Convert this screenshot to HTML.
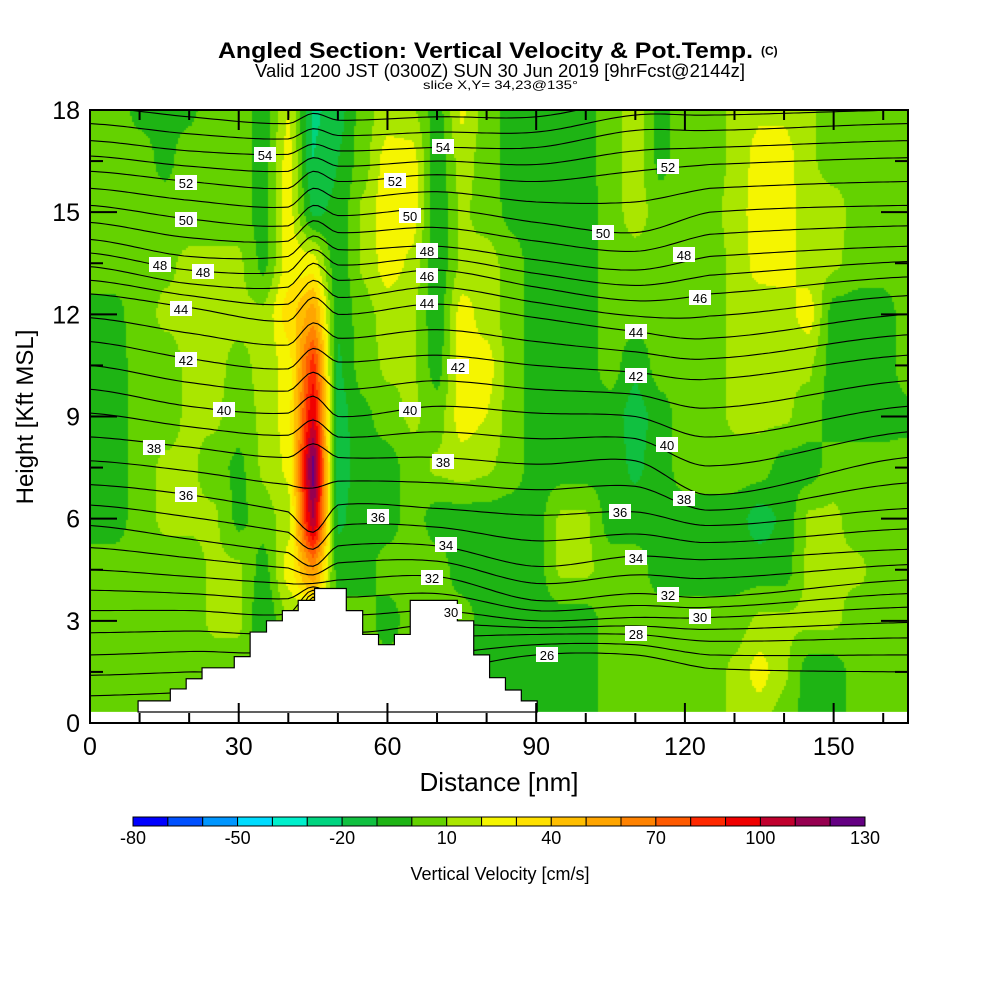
<!DOCTYPE html>
<html><head><meta charset="utf-8">
<style>
html,body{margin:0;padding:0;background:#fff;}
#wrap{position:relative;width:1000px;height:1000px;overflow:hidden;font-family:"Liberation Sans",sans-serif;}
canvas,svg{position:absolute;left:0;top:0;}
</style></head>
<body>
<div id="wrap">
<canvas id="field" width="1000" height="1000"></canvas>
<svg id="over" width="1000" height="1000"></svg>
</div>
<script>
// ---- data ----
const distCols = [0,5,10,15,20,25,30,35,40,45,50,55,60,65,70,75,80,85,90,95,100,105,110,115,120,125,130,135,140,145,150,155,160,165];
const heightRows = [18,16.5,15,13.5,12,10.5,9,7.5,6,4.5,3,1.5,0];
const w18  = [5,5,-3,-3,-2,5,5,-5,20,-22,-15,5,15,12,-5,22,5,-5,-5,-5,-3,5,15,-3,5,5,12,18,18,12,5,5,5,5];
const w165 = [5,5,5,-3,5,5,5,-5,25,-20,-10,5,25,25,-8,15,5,-5,-5,-5,-3,5,15,-3,5,5,12,25,25,12,5,5,5,5];
const w15  = [5,5,5,5,5,5,5,-5,25,-12,-8,12,28,25,-8,12,5,-3,-5,-5,-5,5,15,5,5,5,15,25,25,15,15,5,5,5];
const w135 = [5,5,5,8,12,12,12,-3,25,25,-8,12,25,18,-8,12,15,5,-5,-5,-5,5,5,5,5,5,12,25,25,15,12,5,5,5];
const w12  = [-3,-3,5,12,12,12,12,12,35,55,-8,5,15,12,-8,25,15,5,-5,-5,-5,5,5,5,5,5,12,12,15,25,-5,-5,-5,5];
const w105 = [-5,-5,5,5,12,12,8,12,25,85,-12,5,12,12,-5,25,25,5,-5,-5,-5,5,-8,5,5,5,12,12,12,12,-5,-5,-5,5];
const w9   = [-5,-5,5,5,12,12,5,12,25,100,-15,-3,5,12,5,25,20,5,-5,-5,-5,-5,-15,-5,5,5,12,12,12,5,-5,-5,-5,-3];
const w75  = [-5,-5,5,12,12,5,-3,12,22,125,-15,-5,-5,5,12,15,12,5,-5,-5,-5,-5,-12,-5,5,5,5,5,-5,-5,5,5,5,5];
const w6   = [-5,-5,5,12,12,12,-3,5,15,110,-12,-5,-5,5,-5,-5,-5,-5,-5,12,12,-5,-5,-5,-5,-5,-5,-15,-8,12,12,5,5,5];
const w45  = [5,5,5,5,5,12,12,-5,25,60,-5,-5,5,5,5,-5,-5,-5,-5,12,12,5,5,-5,-5,-5,-5,-5,-5,12,12,12,5,5];
const w3   = [5,5,5,5,5,12,12,-10,10,10,5,5,-5,5,5,5,-5,-5,-5,-5,-5,5,5,5,5,5,5,12,12,12,12,5,5,5];
const w15b = [5,5,5,5,5,5,5,5,5,5,5,5,5,5,5,5,-5,-5,-5,-5,-5,5,5,5,5,5,12,25,12,-5,-5,5,5,5];
const w0   = [5,5,5,5,5,5,5,5,5,5,5,5,5,5,5,5,-5,-5,-5,-5,-5,5,5,5,5,5,12,12,5,-5,-5,5,5,5];
const velRows = [w18,w165,w15,w135,w12,w105,w9,w75,w6,w45,w3,w15b,w0];

const colorLevels = [-80,-70,-60,-50,-40,-30,-20,-10,0,10,20,30,40,50,60,70,80,90,100,110,120,130];
const colorList = ["#0000ff","#0050ff","#0096ff","#00dcff","#00f0cc","#00d47f","#10c040","#1eb414","#64d200","#aae600","#f5f500","#ffe100","#ffbe00","#ffa500","#ff8200","#ff5a00","#ff2800","#f00000","#c0002d","#960050","#640082"];
const cbarTicks = [-80,-50,-20,10,40,70,100,130];

// terrain (nm, kft) staircase
const terrainNm  = [9.7,16.2,19.4,22.6,25.9,29.1,32.3,35.6,38.8,42.0,45.3,51.7,55.0,58.2,61.4,64.6,74.1,77.4,80.6,83.8,87.0];
const terrainKft = [0.65,1.0,1.3,1.62,1.62,1.95,2.67,3.0,3.3,3.6,3.95,3.3,2.6,2.3,2.6,3.6,3.0,2.0,1.33,0.97,0.65];

// isentropes: even levels, height (kft) per anchor column
const thetaLevels = [26,28,30,32,34,36,38,40,42,44,46,48,50,52,54,56];
const anchorNm = [0,20,40,45,50,70,90,110,125,165];
const th0   = [0.8,2.0,3.3,4.5,5.8,7.0,8.4,9.8,11.2,12.6,13.4,14.2,15.2,16.2,17.1,18.1];
const th20  = [0.9,2.1,3.3,4.3,5.4,6.7,8.1,9.3,10.7,12.2,12.9,13.7,14.8,15.9,16.8,17.8];
const th40  = [1.0,2.2,3.2,4.1,5.0,6.2,7.8,9.1,10.4,11.8,12.8,13.7,14.6,15.7,16.7,17.6];
const th45  = [3.5,3.7,3.9,4.1,4.6,5.6,8.2,9.6,11.0,12.5,13.5,14.3,15.2,16.2,17.0,17.9];
const th50  = [1.0,2.2,3.2,4.2,5.2,6.4,7.8,9.0,10.6,12.0,13.0,13.9,14.9,15.9,16.8,17.7];
const th70  = [1.5,2.5,3.3,4.3,5.2,6.3,7.8,9.3,10.8,12.3,13.3,14.0,15.1,16.1,16.9,17.8];
const th90  = [2.0,2.6,3.0,3.6,4.6,6.1,7.6,9.1,10.5,11.9,12.8,13.6,14.7,15.9,16.9,17.8];
const th110 = [2.0,2.6,3.1,3.8,4.9,6.2,7.7,9.0,10.3,11.5,12.4,13.3,14.4,16.2,17.4,18.3];
const th125 = [1.6,2.4,3.1,3.7,4.8,5.8,6.7,8.4,10.1,11.3,12.6,13.7,15.0,16.4,17.4,18.3];
const th165 = [1.5,2.5,3.4,4.2,5.1,6.3,7.8,9.3,10.8,12.0,13.1,14.0,15.2,16.6,17.6,18.4];
const thetaAnchors = [th0,th20,th40,th45,th50,th70,th90,th110,th125,th165];

// contour label annotations: [text, x px, y px]
const labelPos = [[54,265,155],[54,443,147],[52,186,183],[52,395,181],[52,668,167],[50,186,220],[50,410,216],[50,603,233],[48,160,265],[48,203,272],[48,427,251],[48,684,255],[46,427,276],[46,700,298],[44,181,309],[44,427,303],[44,636,332],[42,186,360],[42,458,367],[42,636,376],[40,224,410],[40,410,410],[40,667,445],[38,154,448],[38,443,462],[38,684,499],[36,186,495],[36,378,517],[36,620,512],[34,446,545],[34,636,558],[32,432,578],[32,668,595],[30,451,612],[30,700,617],[28,636,634],[26,547,655]];

const yTicks = [0,3,6,9,12,15,18];
const xTicks = [0,30,60,90,120,150];

// ---- scales ----
const PX0=90, PX1=908, PY0=723, PY1=110, DATA_BOTTOM=712;
const xs = nm => PX0 + nm*(PX1-PX0)/165;
const ys = k => PY0 - k*(PY0-PY1)/18;
const xinv = px => (px-PX0)*165/(PX1-PX0);
const yinv = py => (PY0-py)*18/(PY0-PY1);

function velAt(nm,k){
  let ci = Math.min(distCols.length-2, Math.max(0, Math.floor(nm/5)));
  let tx = Math.min(1,Math.max(0,(nm-distCols[ci])/5));
  let ri = 0; while(ri<heightRows.length-2 && k < heightRows[ri+1]) ri++;
  let ty = Math.min(1,Math.max(0,(heightRows[ri]-k)/(heightRows[ri]-heightRows[ri+1])));
  tx = tx*tx*(3-2*tx)*0.5 + tx*0.5;
  ty = ty*ty*(3-2*ty)*0.5 + ty*0.5;
  const a=velRows[ri][ci], b=velRows[ri][ci+1], c=velRows[ri+1][ci], d=velRows[ri+1][ci+1];
  return (a*(1-tx)+b*tx)*(1-ty)+(c*(1-tx)+d*tx)*ty;
}
function colorFor(v){
  for(let i=0;i<colorList.length;i++){ if(v<colorLevels[i+1]) return colorList[i]; }
  return colorList[colorList.length-1];
}

// ---- draw field ----
const cv=document.getElementById('field'); const ctx=cv.getContext('2d');
const STEP=2;
for(let py=PY1; py<DATA_BOTTOM; py+=STEP){
  for(let px=PX0; px<PX1; px+=STEP){
    ctx.fillStyle=colorFor(velAt(xinv(px+1),yinv(py+1)));
    ctx.fillRect(px,py,STEP,STEP);
  }
}

// ---- svg overlay ----
const NS="http://www.w3.org/2000/svg";
const svg=document.getElementById('over');
function el(tag,attrs,parent){const e=document.createElementNS(NS,tag);for(const k in attrs)e.setAttribute(k,attrs[k]);(parent||svg).appendChild(e);return e;}

// isentropes
const gLines=el('g',{});


function levelHeight(ai,L){
  const arr=thetaAnchors[ai];
  let j=Math.min(thetaLevels.length-2,Math.max(0,Math.floor((L-26)/2)));
  const t=(L-thetaLevels[j])/2;
  return arr[j]*(1-t)+arr[j+1]*t;
}
function lineHeight(L,nm){
  // Catmull-Rom through anchors
  let a=0; while(a<anchorNm.length-2 && nm>anchorNm[a+1]) a++;
  const t=(nm-anchorNm[a])/(anchorNm[a+1]-anchorNm[a]);
  const p1=levelHeight(a,L), p2=levelHeight(a+1,L);
  const p0=a>0?levelHeight(a-1,L):p1, p3=a+2<anchorNm.length?levelHeight(a+2,L):p2;
  const t2=t*t,t3=t2*t;
  return 0.5*((2*p1)+(-p0+p2)*t+(2*p0-5*p1+4*p2-p3)*t2+(-p0+3*p1-3*p2+p3)*t3);
}
for(let L=26; L<=56; L+=1){
  let pts=[];
  for(let nm=0; nm<=165; nm+=1){
    const k=lineHeight(L,nm);
    pts.push(xs(nm).toFixed(1)+','+Math.max(PY1,Math.min(DATA_BOTTOM,ys(k))).toFixed(1));
  }
  const pl=el('polyline',{points:pts.join(' '),fill:'none',stroke:'#000','stroke-width':1.1},gLines);
  
  
}

// bottom white strip
const strip=el('rect',{x:PX0,y:DATA_BOTTOM,width:PX1-PX0,height:PY0-DATA_BOTTOM,fill:'#fff'});



// terrain
let tp=[xs(terrainNm[0])+','+DATA_BOTTOM];
for(let i=0;i<terrainNm.length;i++){
  const x0=xs(terrainNm[i]), x1=xs(i<terrainNm.length-1?terrainNm[i+1]:terrainNm[i]+3.2);
  tp.push(x0+','+ys(terrainKft[i])); tp.push(x1+','+ys(terrainKft[i]));
}
tp.push(tp[tp.length-1].split(',')[0]+','+DATA_BOTTOM);
const terr=el('polygon',{points:tp.join(' '),fill:'#fff',stroke:'#000','stroke-width':1.2});



// contour labels
for(const [t,x,y] of labelPos){
  const g=el('g',{});
  
  
  el('rect',{x:x-11,y:y-8,width:22,height:15,fill:'#fff'},g);
  const tx=el('text',{x:x,y:y+5,'text-anchor':'middle','font-size':13,'font-family':'Liberation Sans, sans-serif',fill:'#000'},g);
  tx.textContent=t;
}

// frame
const fr=el('rect',{x:PX0,y:PY1,width:PX1-PX0,height:PY0-PY1,fill:'none',stroke:'#000','stroke-width':2});



// y ticks
for(let k=0;k<=18;k+=1.5){
  const major = (k%3===0);
  const len = major?27:13;
  el('line',{x1:PX0,x2:PX0+len,y1:ys(k),y2:ys(k),stroke:'#000','stroke-width':2});
  el('line',{x1:PX1,x2:PX1-len,y1:ys(k),y2:ys(k),stroke:'#000','stroke-width':2});
}
for(const k of yTicks){
  const t=el('text',{x:80,y:ys(k)+9,'text-anchor':'end','font-size':25});
  
  
  t.textContent=k;
}
// x ticks
for(let nm=0;nm<=165;nm+=10){
  const major=(nm%30===0); const len=major?20:10;
  el('line',{x1:xs(nm),x2:xs(nm),y1:PY0,y2:PY0-len,stroke:'#000','stroke-width':2});
  el('line',{x1:xs(nm),x2:xs(nm),y1:PY1,y2:PY1+len,stroke:'#000','stroke-width':2});
}
for(const nm of xTicks){
  const t=el('text',{x:xs(nm),y:755,'text-anchor':'middle','font-size':25});
  
  
  t.textContent=nm;
}
const xt=el('text',{x:499,y:791,'text-anchor':'middle','font-size':26});


xt.textContent='Distance [nm]';
const yt=el('text',{x:0,y:0,'text-anchor':'middle','font-size':24,transform:'translate(33,417) rotate(-90)'});


yt.textContent='Height [Kft MSL]';

// titles
const t1=el('text',{x:218,y:58,'font-size':22,'font-weight':'bold',textLength:535,lengthAdjust:'spacingAndGlyphs'});


t1.textContent='Angled Section: Vertical Velocity & Pot.Temp.';
const t1b=el('text',{x:761,y:55,'font-size':12,'font-weight':'bold'});


t1b.textContent='(C)';
const t2=el('text',{x:255,y:77,'font-size':18,textLength:490,lengthAdjust:'spacingAndGlyphs'});


t2.textContent='Valid 1200 JST (0300Z) SUN 30 Jun 2019 [9hrFcst@2144z]';
const t3=el('text',{x:423,y:89,'font-size':12,textLength:155,lengthAdjust:'spacingAndGlyphs'});


t3.textContent='slice X,Y= 34,23@135°';

// colorbar
const CB0=133, CB1=865, CBY=817, CBH=9;
const cbx=v=>CB0+(v-colorLevels[0])*(CB1-CB0)/(colorLevels[colorLevels.length-1]-colorLevels[0]);
const gcb=el('g',{});


for(let i=0;i<colorList.length;i++){
  const r=el('rect',{x:cbx(colorLevels[i]),y:CBY,width:cbx(colorLevels[i+1])-cbx(colorLevels[i]),height:CBH,fill:colorList[i],stroke:'#000','stroke-width':1},gcb);
  
  
}
for(const v of cbarTicks){
  const t=el('text',{x:cbx(v),y:844,'text-anchor':'middle','font-size':18},gcb);
  
  
  t.textContent=v;
}
const cbt=el('text',{x:500,y:880,'text-anchor':'middle','font-size':18});


cbt.textContent='Vertical Velocity [cm/s]';
</script>
</body></html>
